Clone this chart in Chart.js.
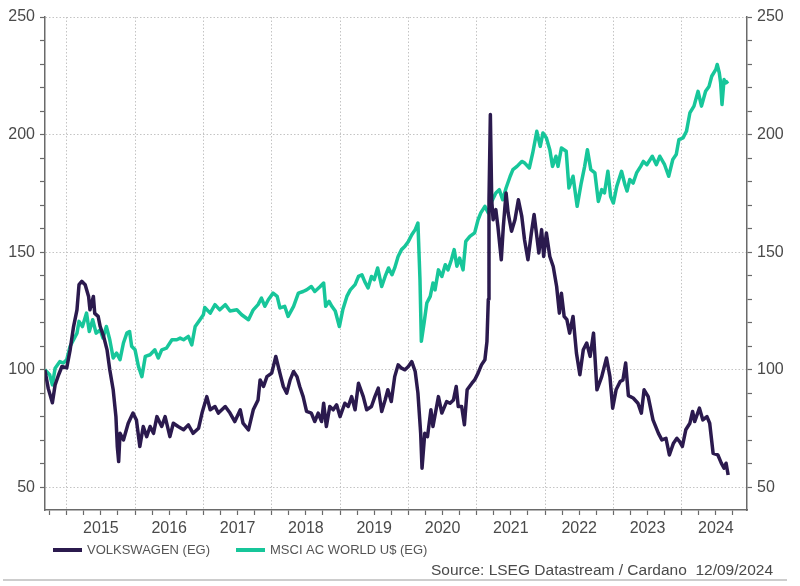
<!DOCTYPE html>
<html>
<head>
<meta charset="utf-8">
<script src="https://cdn.jsdelivr.net/npm/chart.js@4.4.1/dist/chart.umd.min.js"></script>
<style>
  html, body { margin: 0; padding: 0; background: #fff; }
  #wrap { width: 800px; height: 586px; }
</style>
</head>
<body>
<div id="wrap"><canvas id="chart" width="800" height="586"></canvas></div>
<script>
// Data (rebased to 100)
const seriesNames = ['VOLKSWAGEN (EG)', 'MSCI AC WORLD U$ (EG)'];
const seriesColors = ['#2b1a4e', '#17c69a'];
const yearLabels = [2015, 2016, 2017, 2018, 2019, 2020, 2021, 2022, 2023, 2024];
const yLabelValues = [50, 100, 150, 200, 250];
const sourceText = 'Source: LSEG Datastream / Cardano  12/09/2024';

// [decimal year, index value]
const vwPoints = [
  [2014.68,100],[2014.73,92],[2014.79,86],[2014.83,93.6],[2014.88,97.8],[2014.93,101.4],[2015.00,100.8],
  [2015.05,108.5],[2015.10,118.4],[2015.15,125.5],[2015.18,136.2],[2015.22,137.6],[2015.27,136.2],[2015.32,131.2],
  [2015.34,125.5],[2015.39,131.2],[2015.41,124],[2015.46,122.7],[2015.49,118.4],[2015.54,114.2],[2015.59,108.5],
  [2015.63,100],[2015.68,91.5],[2015.72,80.1],[2015.74,67.4],[2015.76,61],[2015.78,73],[2015.83,70.2],[2015.90,77.3],
  [2015.97,81.6],[2016.02,78.7],[2016.07,67.4],[2016.12,75.9],[2016.17,71.6],[2016.22,75.9],[2016.27,73],[2016.32,80.1],
  [2016.39,75.9],[2016.44,80.1],[2016.51,71.6],[2016.56,77.3],[2016.63,75.9],[2016.71,74.5],[2016.78,76.6],[2016.85,73],
  [2016.93,75.2],[2016.98,81.6],[2017.05,88.6],[2017.10,83],[2017.17,84.4],[2017.22,81.6],[2017.32,84.4],[2017.39,81.6],
  [2017.46,78],[2017.54,83],[2017.58,77.3],[2017.66,74.5],[2017.73,83],[2017.80,87.2],[2017.83,95.7],[2017.88,92.9],
  [2017.93,97.1],[2018.00,98.6],[2018.06,105.7],[2018.12,98.6],[2018.17,92.9],[2018.22,90.1],[2018.27,95.7],[2018.32,99.3],
  [2018.37,97.1],[2018.41,92.9],[2018.46,88.6],[2018.51,82.3],[2018.58,81.6],[2018.63,78],[2018.68,81.6],[2018.73,78],
  [2018.76,85.8],[2018.80,75.9],[2018.85,84.4],[2018.90,83],[2018.95,85.1],[2019.00,80.1],[2019.07,85.8],[2019.12,84.4],
  [2019.17,88.6],[2019.22,83],[2019.27,94.3],[2019.34,88.6],[2019.39,83],[2019.46,84.4],[2019.51,88.6],[2019.56,92.2],
  [2019.61,82.3],[2019.66,87.2],[2019.70,91.5],[2019.75,86.5],[2019.80,97.1],[2019.85,102.1],[2019.90,100.7],[2019.95,100],
  [2020.00,101.4],[2020.05,103.5],[2020.10,99.3],[2020.14,90.1],[2020.18,73],[2020.20,58.2],[2020.24,73],[2020.28,71.6],
  [2020.33,83],[2020.36,75.9],[2020.44,88.6],[2020.49,81.6],[2020.56,86.5],[2020.61,85.8],[2020.66,87.2],[2020.70,92.9],
  [2020.73,84.4],[2020.78,84.4],[2020.82,76.6],[2020.86,91.5],[2020.93,94.3],[2020.97,95.7],[2021.02,98.6],[2021.07,102.1],
  [2021.12,104.3],[2021.15,112],[2021.17,130],[2021.18,172],[2021.20,208.5],[2021.22,172],[2021.24,163.8],[2021.28,168.1],
  [2021.31,161],[2021.36,146.8],[2021.39,161],[2021.43,175.2],[2021.46,166.7],[2021.51,158.9],[2021.56,163.8],[2021.61,172.3],
  [2021.66,165.2],[2021.70,155.3],[2021.75,146.8],[2021.80,158.2],[2021.84,166],[2021.88,156.7],[2021.91,149.7],[2021.95,159.6],
  [2021.98,148.2],[2022.02,158.2],[2022.07,148.2],[2022.12,143.9],[2022.17,135.4],[2022.21,124.1],[2022.24,132.6],[2022.28,122.7],
  [2022.32,121.3],[2022.36,115.6],[2022.41,122.7],[2022.46,107.1],[2022.51,97.9],[2022.56,108.5],[2022.61,111.4],[2022.66,105.7],
  [2022.71,115.6],[2022.76,91.5],[2022.83,97.1],[2022.90,105],[2022.95,97.1],[2022.99,83.7],[2023.04,91.5],[2023.10,95],
  [2023.14,95.7],[2023.18,102.9],[2023.22,89],[2023.29,88],[2023.36,85.8],[2023.41,81.6],[2023.45,91.5],[2023.51,88.6],
  [2023.58,78.7],[2023.66,73],[2023.71,70.2],[2023.77,70.9],[2023.82,63.8],[2023.88,68.8],[2023.93,70.9],[2023.97,69.5],
  [2024.01,67.4],[2024.06,74.5],[2024.12,77.3],[2024.16,82.3],[2024.19,78],[2024.26,83.7],[2024.31,78.7],[2024.37,80.1],
  [2024.41,77.3],[2024.46,64.5],[2024.53,63.8],[2024.58,60.3],[2024.62,58.2],[2024.65,60.3],[2024.68,55.3]
];

const msciPoints = [
  [2014.68,100],[2014.75,97.9],[2014.79,93.6],[2014.83,100.7],[2014.90,103.5],[2014.95,102.9],[2015.00,104.3],
  [2015.05,110],[2015.10,112.8],[2015.15,115.6],[2015.18,120.6],[2015.23,118.4],[2015.29,124.1],[2015.33,116.3],
  [2015.38,121.3],[2015.43,115.6],[2015.49,117],[2015.53,113.5],[2015.58,118.4],[2015.63,112.8],[2015.68,105],
  [2015.73,107.1],[2015.78,104.3],[2015.83,111.4],[2015.88,115.6],[2015.92,116.3],[2015.95,110],[2016.00,108.5],
  [2016.05,101.4],[2016.10,97.1],[2016.15,105.7],[2016.22,106.4],[2016.29,108.5],[2016.34,105],[2016.39,108.5],
  [2016.46,109.2],[2016.54,112.8],[2016.61,112.8],[2016.66,113.5],[2016.71,112.8],[2016.78,114.2],[2016.83,110.6],
  [2016.88,118.4],[2016.95,121.3],[2017.00,123.4],[2017.02,126.5],[2017.10,124.1],[2017.17,127.7],[2017.24,125.5],
  [2017.32,127.7],[2017.39,125],[2017.49,125.5],[2017.56,123.4],[2017.66,121.3],[2017.73,125.5],[2017.80,127.7],
  [2017.85,130.5],[2017.90,127],[2017.95,129.8],[2018.02,132.6],[2018.08,131.2],[2018.12,126.3],[2018.19,127],
  [2018.24,122.7],[2018.32,127],[2018.39,132.6],[2018.46,133.3],[2018.51,134],[2018.58,135.4],[2018.63,133.3],
  [2018.71,135.4],[2018.76,136.9],[2018.79,127],[2018.84,129.1],[2018.88,127],[2018.93,125],[2018.99,118.4],
  [2019.04,125.5],[2019.10,131.2],[2019.15,134],[2019.22,136.2],[2019.27,139.7],[2019.32,140.4],[2019.36,137.6],
  [2019.41,134.8],[2019.46,139.7],[2019.50,138.3],[2019.55,143.3],[2019.61,135.4],[2019.66,139.7],[2019.71,143.3],
  [2019.76,140.4],[2019.80,143.3],[2019.85,148.2],[2019.90,151.1],[2019.95,152.5],[2020.00,154.6],[2020.05,157.4],
  [2020.10,159.6],[2020.14,162.4],[2020.17,138.3],[2020.19,112.1],[2020.23,119.9],[2020.27,128.4],[2020.32,131.2],
  [2020.36,136.9],[2020.39,134],[2020.44,142.5],[2020.49,139.7],[2020.54,144.7],[2020.58,142.5],[2020.63,146.8],
  [2020.67,151.1],[2020.71,144],[2020.75,147.5],[2020.80,142.5],[2020.84,154.6],[2020.90,156.7],[2020.97,158.2],
  [2021.02,163.8],[2021.06,166.7],[2021.12,169.5],[2021.17,166.7],[2021.22,171.6],[2021.28,175.2],[2021.33,176.6],
  [2021.38,172.3],[2021.43,177.3],[2021.49,182.3],[2021.53,185.1],[2021.59,186.5],[2021.66,188.6],[2021.70,188],
  [2021.77,185.8],[2021.82,192.2],[2021.88,201.4],[2021.93,195],[2021.97,200.7],[2022.02,198.6],[2022.07,193.6],
  [2022.11,186.5],[2022.16,190.8],[2022.19,186.5],[2022.24,194.3],[2022.31,192.9],[2022.35,177.3],[2022.41,182.3],
  [2022.47,169.5],[2022.53,179.4],[2022.58,186.5],[2022.62,193.6],[2022.67,185.1],[2022.73,183.7],[2022.78,171.6],
  [2022.83,176.6],[2022.87,175.2],[2022.92,184.4],[2022.96,173.7],[2023.00,170.9],[2023.05,178],[2023.12,184.4],
  [2023.17,178.7],[2023.20,176],[2023.24,180.9],[2023.29,179.4],[2023.34,183.7],[2023.40,186.5],[2023.44,188.6],
  [2023.49,187.2],[2023.57,190.8],[2023.63,187.2],[2023.68,190.8],[2023.75,187.2],[2023.81,182.3],[2023.87,189.4],
  [2023.92,191.5],[2023.96,197.9],[2024.02,198.6],[2024.07,201.4],[2024.12,209.2],[2024.18,212.1],[2024.24,218.4],
  [2024.29,212.1],[2024.35,218.4],[2024.40,220.5],[2024.44,224.8],[2024.50,227.7],[2024.52,229.8],[2024.55,226.3],
  [2024.57,222],[2024.59,212.8],[2024.62,223.4],[2024.65,222],[2024.68,222.7]
];

const X_MIN = 2014.682, X_MAX = 2024.956;
const Y_MIN = 40.4, Y_MAX = 250;

const gridColor = '#c4c4c4';
const axisColor = '#6a6a6a';
const textColor = '#4a4a4a';
const fontFamily = '"Liberation Sans", Arial, sans-serif';

function isWhole(v){ return Math.abs(v - Math.round(v)) < 1e-6; }

function yTicks(scale){
  scale.ticks = [];
  for(let v = 50; v <= Y_MAX; v += 10) scale.ticks.push({value: v});
}

function yAxis(position, width){
  return {
    type: 'linear', position, min: Y_MIN, max: Y_MAX,
    afterBuildTicks: yTicks,
    afterFit: s => { s.width = width; },
    ticks: {
      color: textColor, padding: 5, font: {family: fontFamily, size: 16},
      callback: v => yLabelValues.includes(v) ? String(v) : ''
    },
    grid: {
      drawOnChartArea: position === 'left',
      color: c => (c.tick && yLabelValues.includes(c.tick.value)) ? gridColor : 'rgba(0,0,0,0)',
      tickColor: axisColor, tickLength: 5, tickWidth: 1.2, lineWidth: 1
    },
    border: {color: axisColor, width: 1.5, dash: [1.5, 2]}
  };
}

// legend + source line, drawn under the plot
const extras = {
  id: 'extras',
  afterDraw(chart){
    const ctx = chart.ctx;
    ctx.save();
    ctx.font = '13px ' + fontFamily;
    ctx.textBaseline = 'middle';
    const legendX = [53, 236];
    seriesNames.forEach((name, i) => {
      ctx.strokeStyle = seriesColors[i];
      ctx.lineWidth = 4;
      ctx.beginPath();
      ctx.moveTo(legendX[i], 550);
      ctx.lineTo(legendX[i] + 29, 550);
      ctx.stroke();
      ctx.fillStyle = '#555';
      ctx.textAlign = 'left';
      ctx.fillText(name, legendX[i] + 34, 550);
    });
    ctx.font = '15.5px ' + fontFamily;
    ctx.fillStyle = textColor;
    ctx.textAlign = 'right';
    ctx.fillText(sourceText, 773, 571);
    ctx.strokeStyle = '#bdbdbd';
    ctx.lineWidth = 1.5;
    ctx.beginPath();
    ctx.moveTo(3, 580);
    ctx.lineTo(787, 580);
    ctx.stroke();
    ctx.restore();
  }
};

new Chart(document.getElementById('chart'), {
  type: 'line',
  data: {
    datasets: [
      {label: seriesNames[0], data: vwPoints.map(p => ({x: p[0], y: p[1]})),
       borderColor: seriesColors[0], borderWidth: 3.5, borderJoinStyle: 'round', pointRadius: 0, tension: 0, yAxisID: 'y'},
      {label: seriesNames[1], data: msciPoints.map(p => ({x: p[0], y: p[1]})),
       borderColor: seriesColors[1], borderWidth: 3.5, borderJoinStyle: 'round', pointRadius: 0, tension: 0, yAxisID: 'y'}
    ]
  },
  options: {
    responsive: false,
    animation: false,
    devicePixelRatio: 1,
    layout: {padding: {top: 17, bottom: 36, left: 0, right: 0}},
    plugins: {legend: {display: false}, tooltip: {enabled: false}},
    scales: {
      x: {
        type: 'linear', min: X_MIN, max: X_MAX,
        afterBuildTicks: s => {
          s.ticks = [];
          for(let q = Math.ceil(X_MIN * 4); q <= Math.floor(X_MAX * 4); q++) s.ticks.push({value: q / 4});
        },
        afterFit: s => { s.height = 40; },
        ticks: {
          autoSkip: false, maxRotation: 0, minRotation: 0, padding: 4,
          color: textColor, font: {family: fontFamily, size: 16},
          callback: v => yearLabels.includes(v - 0.5) ? String(v - 0.5) : ''
        },
        grid: {
          color: c => (c.tick && isWhole(c.tick.value)) ? gridColor : 'rgba(0,0,0,0)',
          tickColor: axisColor, tickLength: 5, tickWidth: 1.2, lineWidth: 1
        },
        border: {color: axisColor, width: 1.5, dash: [1.5, 2]}
      },
      y: yAxis('left', 45),
      y2: yAxis('right', 53)
    }
  },
  plugins: [extras]
});
</script>
</body>
</html>
